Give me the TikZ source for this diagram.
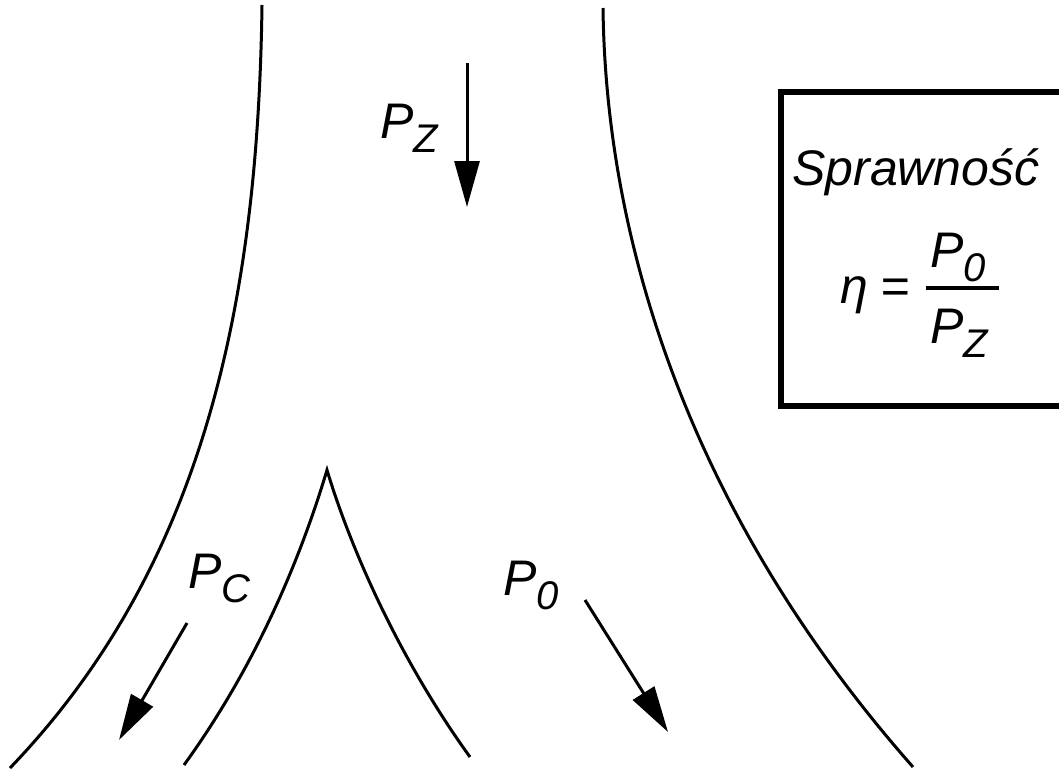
\documentclass[tikz,border=0pt]{standalone}
\usepackage{fontspec}
\setmainfont{Liberation Sans}
\usepackage{tikz}
\usetikzlibrary{arrows.meta, positioning}

\newcommand{\psub}[1]{P\raisebox{-14pt}{\fontsize{40}{40}\selectfont #1}}

\begin{document}
\begin{tikzpicture}[x=1pt, y=-1pt,
    wall/.style={line width=3pt},
    flow/.style={line width=3pt, -{Triangle[length=46pt, width=25pt]}},
    lbl/.style={inner sep=0pt, anchor=base west,
                font=\fontsize{50}{60}\selectfont\itshape}
]
    \useasboundingbox (0,0) rectangle (1059,772);
    \clip (0,0) rectangle (1059,772);

    \draw[wall] (262,5) .. controls (258,300) and (205,565) .. (10,768);
    \draw[wall] (603,8) .. controls (606,250) and (695,520) .. (913,767);
    \draw[wall] (184,765) .. controls (260,660) and (303,550) .. (327,470)
                .. controls (351,550) and (400,660) .. (470,757);

    \coordinate (zs) at (467,63);
    \coordinate (ze) at (467,207);
    \coordinate (cs) at (187,623);
    \coordinate (ce) at (119,740);
    \coordinate (os) at (585,600);
    \coordinate (oe) at (668,732);
    \draw[flow] (zs) -- (ze);
    \draw[flow] (cs) -- (ce);
    \draw[flow] (os) -- (oe);

    \node[lbl] (pz) at (380,138) {\psub{Z}};
    \node[lbl] (pc) at (188,588) {\psub{C}};
    \node[lbl] (po) at (503,595) {\psub{0}};

    \draw[line width=6pt] (1080,92) -- (781,92) -- (781,406) -- (1080,406);
    \node[lbl] (title) at (792,185) {Sprawność};
    \node[lbl] (eta) at (840,303) {η};
    \node[lbl] (eq) at (880,303) {=};
    \node[lbl] (num) at (930,267) {\psub{0}};
    \node[lbl] (den) at (930,343) {\psub{Z}};
    \coordinate (barl) at (926,288);
    \coordinate (barr) at (999,288);
    \draw[line width=4.5pt] (barl) -- (barr);
\end{tikzpicture}
\end{document}
